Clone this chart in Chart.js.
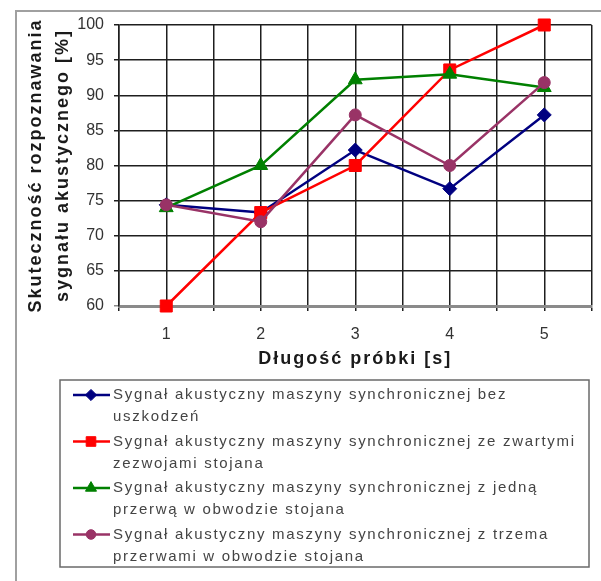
<!DOCTYPE html>
<html>
<head>
<meta charset="utf-8">
<script src="https://cdn.jsdelivr.net/npm/chart.js@4.4.1/dist/chart.umd.min.js"></script>
<style>
  html, body { margin: 0; padding: 0; background: #ffffff; }
  #wrap { position: relative; width: 601px; height: 581px; }
</style>
</head>
<body>
<div id="wrap"><canvas id="chart"></canvas></div>
<script>
// Sample length [s]
const sampleLengths = [1, 2, 3, 4, 5];

// Recognition rate [%] for each machine condition
const rateHealthy     = [74.4, 73.3, 82.2, 76.7, 87.2];
const rateShorted     = [60.0, 73.3, 80.0, 93.6, 100.0];
const rateOneBreak    = [74.0, 80.0, 92.2, 93.0, 91.1];
const rateThreeBreaks = [74.4, 72.0, 87.2, 80.0, 91.8];

const yTicks = [60, 65, 70, 75, 80, 85, 90, 95, 100];

const seriesNames = [
  ['Sygnał akustyczny maszyny synchronicznej bez', 'uszkodzeń'],
  ['Sygnał akustyczny maszyny synchronicznej ze zwartymi', 'zezwojami stojana'],
  ['Sygnał akustyczny maszyny synchronicznej z jedną', 'przerwą w obwodzie stojana'],
  ['Sygnał akustyczny maszyny synchronicznej z trzema', 'przerwami w obwodzie stojana']
];

const yTitleLines = ['Skuteczność rozpoznawania', 'sygnału akustycznego [%]'];
const xTitle = 'Długość próbki [s]';

const FONT = "'Liberation Sans', Arial, sans-serif";
Chart.defaults.font.family = FONT;

function points(values) {
  return sampleLengths.map((x, i) => ({ x: x, y: values[i] }));
}

function series(idx, values, color, style, radius, order) {
  return {
    label: seriesNames[idx].join(' '),
    data: points(values),
    borderColor: color,
    backgroundColor: color,
    pointBackgroundColor: color,
    pointBorderColor: color,
    pointBorderWidth: 1,
    pointStyle: style,
    pointRadius: radius,
    pointHoverRadius: radius,
    borderWidth: 2.5,
    tension: 0,
    clip: false,
    order: order
  };
}

// Frame, axis titles and the boxed legend below the plot
const decorations = {
  id: 'decorations',
  beforeDraw(chart) {
    const ctx = chart.ctx;
    ctx.save();
    ctx.strokeStyle = '#a0a0a0';
    ctx.lineWidth = 2;
    ctx.beginPath();
    ctx.moveTo(16, 581);
    ctx.lineTo(16, 11);
    ctx.lineTo(601, 11);
    ctx.stroke();
    ctx.restore();
  },
  afterDraw(chart) {
    const ctx = chart.ctx;
    const area = chart.chartArea;
    ctx.save();

    // axis titles
    ctx.fillStyle = '#1a1a1a';
    ctx.font = 'bold 18px ' + FONT;
    ctx.letterSpacing = '2px';
    ctx.textAlign = 'center';
    ctx.textBaseline = 'alphabetic';
    const cy = (area.top + area.bottom) / 2;
    [41, 68].forEach((bx, i) => {
      ctx.save();
      ctx.translate(bx, cy);
      ctx.rotate(-Math.PI / 2);
      ctx.fillText(yTitleLines[i], 0, 0);
      ctx.restore();
    });
    ctx.fillText(xTitle, (area.left + area.right) / 2, 364);

    // legend box
    const box = { l: 60, t: 380, r: 589, b: 567 };
    ctx.strokeStyle = '#6a6a6a';
    ctx.lineWidth = 1.5;
    ctx.strokeRect(box.l, box.t, box.r - box.l, box.b - box.t);

    ctx.font = '15px ' + FONT;
    ctx.letterSpacing = '1.7px';
    ctx.textAlign = 'left';
    ctx.textBaseline = 'middle';
    chart.data.datasets.forEach((ds, i) => {
      const y0 = 395 + i * 46.5;
      ctx.strokeStyle = ds.borderColor;
      ctx.lineWidth = ds.borderWidth;
      ctx.beginPath();
      ctx.moveTo(73, y0);
      ctx.lineTo(110, y0);
      ctx.stroke();
      ctx.fillStyle = ds.pointBackgroundColor;
      ctx.strokeStyle = ds.pointBorderColor;
      ctx.lineWidth = 1;
      Chart.helpers.drawPoint(ctx, {
        pointStyle: ds.pointStyle,
        radius: ds.pointRadius * 0.8,
        borderWidth: 1,
        rotation: 0
      }, 91, y0);
      ctx.fillStyle = '#444444';
      seriesNames[i].forEach((line, k) => {
        ctx.fillText(line, 113, y0 + k * 22);
      });
    });
    ctx.restore();
  }
};

new Chart(document.getElementById('chart'), {
  type: 'line',
  data: {
    datasets: [
      series(0, rateHealthy,     '#000080', 'rectRot',  7,   4),
      series(1, rateShorted,     '#ff0000', 'rect',     8.5, 3),
      series(2, rateOneBreak,    '#008000', 'triangle', 8,   2),
      series(3, rateThreeBreaks, '#993366', 'circle',   6,   1)
    ]
  },
  options: {
    responsive: true,
    maintainAspectRatio: false,
    animation: false,
    events: [],
    layout: { padding: { left: 0, top: 25, right: -4, bottom: 221 } },
    plugins: {
      legend: { display: false },
      tooltip: { enabled: false }
    },
    scales: {
      x: {
        type: 'linear',
        min: 0.5,
        max: 5.5,
        afterFit(scale) { scale.height = 54; },
        ticks: {
          stepSize: 0.5,
          autoSkip: false,
          maxRotation: 0,
          padding: 3,
          color: '#333333',
          font: { size: 16, lineHeight: 2.6 },
          callback: (v) => (sampleLengths.includes(v) ? String(v) : '')
        },
        grid: { color: '#1e1e1e', lineWidth: 1.5, tickLength: 5 },
        border: { color: '#8a8a8a', width: 3 }
      },
      y: {
        type: 'linear',
        min: yTicks[0],
        max: yTicks[yTicks.length - 1],
        afterFit(scale) { scale.width = 119; },
        afterBuildTicks(scale) { scale.ticks = yTicks.map(v => ({ value: v })); },
        ticks: {
          padding: 10,
          color: '#333333',
          font: { size: 16 }
        },
        grid: {
          color: (c) => (c.tick && c.tick.value === yTicks[0] ? '#8a8a8a' : '#1e1e1e'),
          lineWidth: 1.5,
          tickLength: 5
        },
        border: { color: '#1e1e1e', width: 1.5 }
      }
    }
  },
  plugins: [decorations]
});
</script>
</body>
</html>
